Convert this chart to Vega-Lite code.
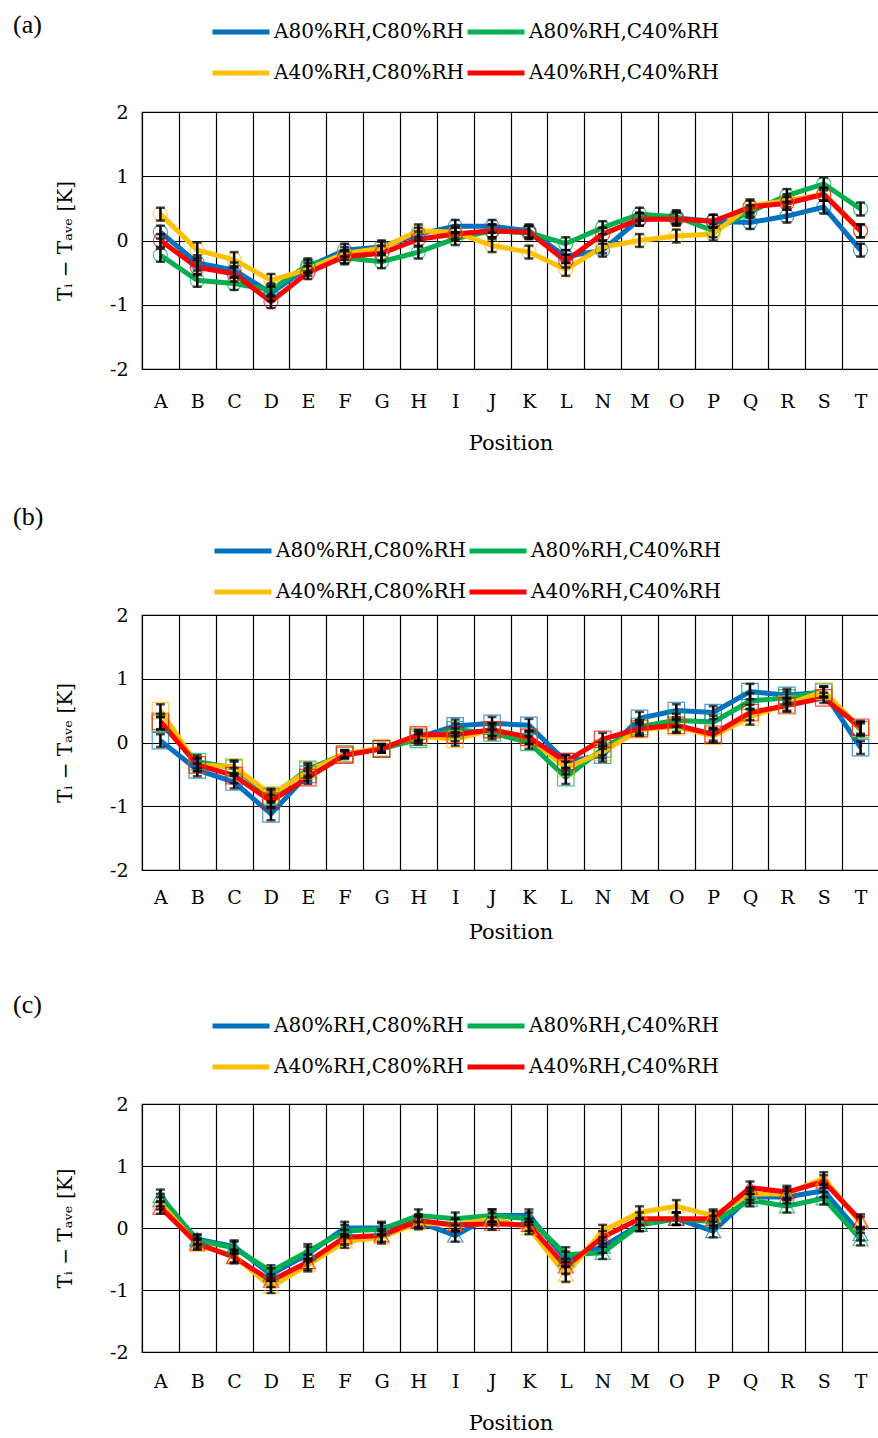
{
  "$schema": "https://vega.github.io/schema/vega-lite/v6.json",
  "padding": {"left": 12, "top": 0, "right": 0, "bottom": 0},
  "background": "white",
  "spacing": 65,
  "resolve": {"scale": {"color": "independent", "stroke": "independent"}, "legend": {"color": "independent", "stroke": "independent"}},
  "config": {
    "font": "DejaVu Serif",
    "view": {"stroke": "black", "strokeWidth": 1.2},
    "axis": {"labelColor": "black", "titleColor": "black", "titleFontWeight": "normal", "labelFont": "DejaVu Serif", "titleFont": "DejaVu Serif"},
    "legend": {"labelColor": "black", "titleColor": "black", "labelFont": "DejaVu Serif", "titleFont": "Liberation Serif"}
  },
  "datasets": {
    "d": [
      {"p":"a","x":"A","s":"A80%RH,C80%RH","v":0.13,"e":0.1},{"p":"a","x":"A","s":"A80%RH,C40%RH","v":-0.23,"e":0.1},{"p":"a","x":"A","s":"A40%RH,C80%RH","v":0.41,"e":0.1},{"p":"a","x":"A","s":"A40%RH,C40%RH","v":0.0,"e":0.1},
      {"p":"a","x":"B","s":"A80%RH,C80%RH","v":-0.35,"e":0.12},{"p":"a","x":"B","s":"A80%RH,C40%RH","v":-0.62,"e":0.1},{"p":"a","x":"B","s":"A40%RH,C80%RH","v":-0.15,"e":0.12},{"p":"a","x":"B","s":"A40%RH,C40%RH","v":-0.42,"e":0.12},
      {"p":"a","x":"C","s":"A80%RH,C80%RH","v":-0.46,"e":0.12},{"p":"a","x":"C","s":"A80%RH,C40%RH","v":-0.67,"e":0.1},{"p":"a","x":"C","s":"A40%RH,C80%RH","v":-0.3,"e":0.12},{"p":"a","x":"C","s":"A40%RH,C40%RH","v":-0.52,"e":0.12},
      {"p":"a","x":"D","s":"A80%RH,C80%RH","v":-0.82,"e":0.12},{"p":"a","x":"D","s":"A80%RH,C40%RH","v":-0.77,"e":0.1},{"p":"a","x":"D","s":"A40%RH,C80%RH","v":-0.62,"e":0.1},{"p":"a","x":"D","s":"A40%RH,C40%RH","v":-0.95,"e":0.1},
      {"p":"a","x":"E","s":"A80%RH,C80%RH","v":-0.41,"e":0.1},{"p":"a","x":"E","s":"A80%RH,C40%RH","v":-0.38,"e":0.1},{"p":"a","x":"E","s":"A40%RH,C80%RH","v":-0.45,"e":0.1},{"p":"a","x":"E","s":"A40%RH,C40%RH","v":-0.5,"e":0.1},
      {"p":"a","x":"F","s":"A80%RH,C80%RH","v":-0.15,"e":0.1},{"p":"a","x":"F","s":"A80%RH,C40%RH","v":-0.27,"e":0.1},{"p":"a","x":"F","s":"A40%RH,C80%RH","v":-0.2,"e":0.1},{"p":"a","x":"F","s":"A40%RH,C40%RH","v":-0.25,"e":0.1},
      {"p":"a","x":"G","s":"A80%RH,C80%RH","v":-0.1,"e":0.1},{"p":"a","x":"G","s":"A80%RH,C40%RH","v":-0.33,"e":0.1},{"p":"a","x":"G","s":"A40%RH,C80%RH","v":-0.12,"e":0.1},{"p":"a","x":"G","s":"A40%RH,C40%RH","v":-0.2,"e":0.12},
      {"p":"a","x":"H","s":"A80%RH,C80%RH","v":0.1,"e":0.1},{"p":"a","x":"H","s":"A80%RH,C40%RH","v":-0.18,"e":0.1},{"p":"a","x":"H","s":"A40%RH,C80%RH","v":0.15,"e":0.1},{"p":"a","x":"H","s":"A40%RH,C40%RH","v":0.02,"e":0.12},
      {"p":"a","x":"I","s":"A80%RH,C80%RH","v":0.22,"e":0.1},{"p":"a","x":"I","s":"A80%RH,C40%RH","v":0.03,"e":0.1},{"p":"a","x":"I","s":"A40%RH,C80%RH","v":0.13,"e":0.1},{"p":"a","x":"I","s":"A40%RH,C40%RH","v":0.1,"e":0.1},
      {"p":"a","x":"J","s":"A80%RH,C80%RH","v":0.22,"e":0.1},{"p":"a","x":"J","s":"A80%RH,C40%RH","v":0.15,"e":0.1},{"p":"a","x":"J","s":"A40%RH,C80%RH","v":-0.08,"e":0.1},{"p":"a","x":"J","s":"A40%RH,C40%RH","v":0.15,"e":0.1},
      {"p":"a","x":"K","s":"A80%RH,C80%RH","v":0.15,"e":0.1},{"p":"a","x":"K","s":"A80%RH,C40%RH","v":0.12,"e":0.1},{"p":"a","x":"K","s":"A40%RH,C80%RH","v":-0.18,"e":0.1},{"p":"a","x":"K","s":"A40%RH,C40%RH","v":0.13,"e":0.1},
      {"p":"a","x":"L","s":"A80%RH,C80%RH","v":-0.25,"e":0.1},{"p":"a","x":"L","s":"A80%RH,C40%RH","v":-0.05,"e":0.1},{"p":"a","x":"L","s":"A40%RH,C80%RH","v":-0.45,"e":0.1},{"p":"a","x":"L","s":"A40%RH,C40%RH","v":-0.32,"e":0.1},
      {"p":"a","x":"N","s":"A80%RH,C80%RH","v":-0.15,"e":0.1},{"p":"a","x":"N","s":"A80%RH,C40%RH","v":0.2,"e":0.1},{"p":"a","x":"N","s":"A40%RH,C80%RH","v":-0.1,"e":0.1},{"p":"a","x":"N","s":"A40%RH,C40%RH","v":0.1,"e":0.1},
      {"p":"a","x":"M","s":"A80%RH,C80%RH","v":0.33,"e":0.1},{"p":"a","x":"M","s":"A80%RH,C40%RH","v":0.41,"e":0.1},{"p":"a","x":"M","s":"A40%RH,C80%RH","v":0.0,"e":0.1},{"p":"a","x":"M","s":"A40%RH,C40%RH","v":0.33,"e":0.1},
      {"p":"a","x":"O","s":"A80%RH,C80%RH","v":0.35,"e":0.1},{"p":"a","x":"O","s":"A80%RH,C40%RH","v":0.37,"e":0.1},{"p":"a","x":"O","s":"A40%RH,C80%RH","v":0.07,"e":0.1},{"p":"a","x":"O","s":"A40%RH,C40%RH","v":0.33,"e":0.1},
      {"p":"a","x":"P","s":"A80%RH,C80%RH","v":0.3,"e":0.1},{"p":"a","x":"P","s":"A80%RH,C40%RH","v":0.15,"e":0.1},{"p":"a","x":"P","s":"A40%RH,C80%RH","v":0.1,"e":0.1},{"p":"a","x":"P","s":"A40%RH,C40%RH","v":0.3,"e":0.1},
      {"p":"a","x":"Q","s":"A80%RH,C80%RH","v":0.28,"e":0.1},{"p":"a","x":"Q","s":"A80%RH,C40%RH","v":0.45,"e":0.1},{"p":"a","x":"Q","s":"A40%RH,C80%RH","v":0.54,"e":0.1},{"p":"a","x":"Q","s":"A40%RH,C40%RH","v":0.52,"e":0.1},
      {"p":"a","x":"R","s":"A80%RH,C80%RH","v":0.38,"e":0.1},{"p":"a","x":"R","s":"A80%RH,C40%RH","v":0.7,"e":0.1},{"p":"a","x":"R","s":"A40%RH,C80%RH","v":0.62,"e":0.1},{"p":"a","x":"R","s":"A40%RH,C40%RH","v":0.58,"e":0.1},
      {"p":"a","x":"S","s":"A80%RH,C80%RH","v":0.52,"e":0.1},{"p":"a","x":"S","s":"A80%RH,C40%RH","v":0.88,"e":0.1},{"p":"a","x":"S","s":"A40%RH,C80%RH","v":0.72,"e":0.1},{"p":"a","x":"S","s":"A40%RH,C40%RH","v":0.72,"e":0.1},
      {"p":"a","x":"T","s":"A80%RH,C80%RH","v":-0.15,"e":0.1},{"p":"a","x":"T","s":"A80%RH,C40%RH","v":0.49,"e":0.1},{"p":"a","x":"T","s":"A40%RH,C80%RH","v":0.15,"e":0.1},{"p":"a","x":"T","s":"A40%RH,C40%RH","v":0.15,"e":0.1},

      {"p":"b","x":"A","s":"A80%RH,C80%RH","v":0.03,"e":0.1},{"p":"b","x":"A","s":"A80%RH,C40%RH","v":0.3,"e":0.1},{"p":"b","x":"A","s":"A40%RH,C80%RH","v":0.5,"e":0.1},{"p":"b","x":"A","s":"A40%RH,C40%RH","v":0.33,"e":0.12},
      {"p":"b","x":"B","s":"A80%RH,C80%RH","v":-0.43,"e":0.1},{"p":"b","x":"B","s":"A80%RH,C40%RH","v":-0.3,"e":0.1},{"p":"b","x":"B","s":"A40%RH,C80%RH","v":-0.35,"e":0.1},{"p":"b","x":"B","s":"A40%RH,C40%RH","v":-0.35,"e":0.1},
      {"p":"b","x":"C","s":"A80%RH,C80%RH","v":-0.62,"e":0.1},{"p":"b","x":"C","s":"A80%RH,C40%RH","v":-0.4,"e":0.1},{"p":"b","x":"C","s":"A40%RH,C80%RH","v":-0.38,"e":0.1},{"p":"b","x":"C","s":"A40%RH,C40%RH","v":-0.52,"e":0.12},
      {"p":"b","x":"D","s":"A80%RH,C80%RH","v":-1.12,"e":0.1},{"p":"b","x":"D","s":"A80%RH,C40%RH","v":-0.85,"e":0.1},{"p":"b","x":"D","s":"A40%RH,C80%RH","v":-0.82,"e":0.1},{"p":"b","x":"D","s":"A40%RH,C40%RH","v":-0.92,"e":0.1},
      {"p":"b","x":"E","s":"A80%RH,C80%RH","v":-0.5,"e":0.1},{"p":"b","x":"E","s":"A80%RH,C40%RH","v":-0.42,"e":0.1},{"p":"b","x":"E","s":"A40%RH,C80%RH","v":-0.45,"e":0.1},{"p":"b","x":"E","s":"A40%RH,C40%RH","v":-0.55,"e":0.1},
      {"p":"b","x":"F","s":"A80%RH,C80%RH","v":-0.18,"e":0.06},{"p":"b","x":"F","s":"A80%RH,C40%RH","v":-0.18,"e":0.06},{"p":"b","x":"F","s":"A40%RH,C80%RH","v":-0.18,"e":0.06},{"p":"b","x":"F","s":"A40%RH,C40%RH","v":-0.2,"e":0.06},
      {"p":"b","x":"G","s":"A80%RH,C80%RH","v":-0.1,"e":0.06},{"p":"b","x":"G","s":"A80%RH,C40%RH","v":-0.1,"e":0.06},{"p":"b","x":"G","s":"A40%RH,C80%RH","v":-0.08,"e":0.06},{"p":"b","x":"G","s":"A40%RH,C40%RH","v":-0.1,"e":0.06},
      {"p":"b","x":"H","s":"A80%RH,C80%RH","v":0.08,"e":0.08},{"p":"b","x":"H","s":"A80%RH,C40%RH","v":0.05,"e":0.08},{"p":"b","x":"H","s":"A40%RH,C80%RH","v":0.1,"e":0.08},{"p":"b","x":"H","s":"A40%RH,C40%RH","v":0.12,"e":0.08},
      {"p":"b","x":"I","s":"A80%RH,C80%RH","v":0.26,"e":0.1},{"p":"b","x":"I","s":"A80%RH,C40%RH","v":0.2,"e":0.1},{"p":"b","x":"I","s":"A40%RH,C80%RH","v":0.05,"e":0.1},{"p":"b","x":"I","s":"A40%RH,C40%RH","v":0.12,"e":0.1},
      {"p":"b","x":"J","s":"A80%RH,C80%RH","v":0.3,"e":0.1},{"p":"b","x":"J","s":"A80%RH,C40%RH","v":0.15,"e":0.1},{"p":"b","x":"J","s":"A40%RH,C80%RH","v":0.2,"e":0.1},{"p":"b","x":"J","s":"A40%RH,C40%RH","v":0.2,"e":0.1},
      {"p":"b","x":"K","s":"A80%RH,C80%RH","v":0.27,"e":0.1},{"p":"b","x":"K","s":"A80%RH,C40%RH","v":0.0,"e":0.1},{"p":"b","x":"K","s":"A40%RH,C80%RH","v":0.08,"e":0.1},{"p":"b","x":"K","s":"A40%RH,C40%RH","v":0.08,"e":0.1},
      {"p":"b","x":"L","s":"A80%RH,C80%RH","v":-0.3,"e":0.1},{"p":"b","x":"L","s":"A80%RH,C40%RH","v":-0.55,"e":0.1},{"p":"b","x":"L","s":"A40%RH,C80%RH","v":-0.4,"e":0.1},{"p":"b","x":"L","s":"A40%RH,C40%RH","v":-0.3,"e":0.1},
      {"p":"b","x":"N","s":"A80%RH,C80%RH","v":-0.2,"e":0.1},{"p":"b","x":"N","s":"A80%RH,C40%RH","v":-0.1,"e":0.1},{"p":"b","x":"N","s":"A40%RH,C80%RH","v":-0.15,"e":0.1},{"p":"b","x":"N","s":"A40%RH,C40%RH","v":0.05,"e":0.1},
      {"p":"b","x":"M","s":"A80%RH,C80%RH","v":0.38,"e":0.1},{"p":"b","x":"M","s":"A80%RH,C40%RH","v":0.25,"e":0.1},{"p":"b","x":"M","s":"A40%RH,C80%RH","v":0.2,"e":0.1},{"p":"b","x":"M","s":"A40%RH,C40%RH","v":0.22,"e":0.1},
      {"p":"b","x":"O","s":"A80%RH,C80%RH","v":0.5,"e":0.1},{"p":"b","x":"O","s":"A80%RH,C40%RH","v":0.35,"e":0.1},{"p":"b","x":"O","s":"A40%RH,C80%RH","v":0.25,"e":0.1},{"p":"b","x":"O","s":"A40%RH,C40%RH","v":0.27,"e":0.1},
      {"p":"b","x":"P","s":"A80%RH,C80%RH","v":0.47,"e":0.1},{"p":"b","x":"P","s":"A80%RH,C40%RH","v":0.32,"e":0.1},{"p":"b","x":"P","s":"A40%RH,C80%RH","v":0.1,"e":0.1},{"p":"b","x":"P","s":"A40%RH,C40%RH","v":0.13,"e":0.1},
      {"p":"b","x":"Q","s":"A80%RH,C80%RH","v":0.8,"e":0.12},{"p":"b","x":"Q","s":"A80%RH,C40%RH","v":0.65,"e":0.12},{"p":"b","x":"Q","s":"A40%RH,C80%RH","v":0.4,"e":0.12},{"p":"b","x":"Q","s":"A40%RH,C40%RH","v":0.47,"e":0.12},
      {"p":"b","x":"R","s":"A80%RH,C80%RH","v":0.74,"e":0.1},{"p":"b","x":"R","s":"A80%RH,C40%RH","v":0.7,"e":0.1},{"p":"b","x":"R","s":"A40%RH,C80%RH","v":0.6,"e":0.1},{"p":"b","x":"R","s":"A40%RH,C40%RH","v":0.58,"e":0.1},
      {"p":"b","x":"S","s":"A80%RH,C80%RH","v":0.79,"e":0.08},{"p":"b","x":"S","s":"A80%RH,C40%RH","v":0.8,"e":0.08},{"p":"b","x":"S","s":"A40%RH,C80%RH","v":0.8,"e":0.08},{"p":"b","x":"S","s":"A40%RH,C40%RH","v":0.7,"e":0.08},
      {"p":"b","x":"T","s":"A80%RH,C80%RH","v":-0.08,"e":0.1},{"p":"b","x":"T","s":"A80%RH,C40%RH","v":0.2,"e":0.1},{"p":"b","x":"T","s":"A40%RH,C80%RH","v":0.22,"e":0.1},{"p":"b","x":"T","s":"A40%RH,C40%RH","v":0.24,"e":0.1},

      {"p":"c","x":"A","s":"A80%RH,C80%RH","v":0.45,"e":0.1},{"p":"c","x":"A","s":"A80%RH,C40%RH","v":0.52,"e":0.1},{"p":"c","x":"A","s":"A40%RH,C80%RH","v":0.4,"e":0.1},{"p":"c","x":"A","s":"A40%RH,C40%RH","v":0.33,"e":0.1},
      {"p":"c","x":"B","s":"A80%RH,C80%RH","v":-0.18,"e":0.08},{"p":"c","x":"B","s":"A80%RH,C40%RH","v":-0.2,"e":0.08},{"p":"c","x":"B","s":"A40%RH,C80%RH","v":-0.27,"e":0.08},{"p":"c","x":"B","s":"A40%RH,C40%RH","v":-0.25,"e":0.08},
      {"p":"c","x":"C","s":"A80%RH,C80%RH","v":-0.3,"e":0.1},{"p":"c","x":"C","s":"A80%RH,C40%RH","v":-0.32,"e":0.1},{"p":"c","x":"C","s":"A40%RH,C80%RH","v":-0.45,"e":0.1},{"p":"c","x":"C","s":"A40%RH,C40%RH","v":-0.47,"e":0.1},
      {"p":"c","x":"D","s":"A80%RH,C80%RH","v":-0.75,"e":0.1},{"p":"c","x":"D","s":"A80%RH,C40%RH","v":-0.7,"e":0.1},{"p":"c","x":"D","s":"A40%RH,C80%RH","v":-0.95,"e":0.1},{"p":"c","x":"D","s":"A40%RH,C40%RH","v":-0.85,"e":0.1},
      {"p":"c","x":"E","s":"A80%RH,C80%RH","v":-0.42,"e":0.12},{"p":"c","x":"E","s":"A80%RH,C40%RH","v":-0.38,"e":0.12},{"p":"c","x":"E","s":"A40%RH,C80%RH","v":-0.6,"e":0.1},{"p":"c","x":"E","s":"A40%RH,C40%RH","v":-0.55,"e":0.12},
      {"p":"c","x":"F","s":"A80%RH,C80%RH","v":0.0,"e":0.1},{"p":"c","x":"F","s":"A80%RH,C40%RH","v":-0.05,"e":0.1},{"p":"c","x":"F","s":"A40%RH,C80%RH","v":-0.22,"e":0.1},{"p":"c","x":"F","s":"A40%RH,C40%RH","v":-0.15,"e":0.12},
      {"p":"c","x":"G","s":"A80%RH,C80%RH","v":0.0,"e":0.1},{"p":"c","x":"G","s":"A80%RH,C40%RH","v":-0.02,"e":0.1},{"p":"c","x":"G","s":"A40%RH,C80%RH","v":-0.15,"e":0.1},{"p":"c","x":"G","s":"A40%RH,C40%RH","v":-0.12,"e":0.1},
      {"p":"c","x":"H","s":"A80%RH,C80%RH","v":0.1,"e":0.1},{"p":"c","x":"H","s":"A80%RH,C40%RH","v":0.2,"e":0.1},{"p":"c","x":"H","s":"A40%RH,C80%RH","v":0.08,"e":0.1},{"p":"c","x":"H","s":"A40%RH,C40%RH","v":0.12,"e":0.1},
      {"p":"c","x":"I","s":"A80%RH,C80%RH","v":-0.12,"e":0.1},{"p":"c","x":"I","s":"A80%RH,C40%RH","v":0.15,"e":0.1},{"p":"c","x":"I","s":"A40%RH,C80%RH","v":0.05,"e":0.1},{"p":"c","x":"I","s":"A40%RH,C40%RH","v":0.05,"e":0.1},
      {"p":"c","x":"J","s":"A80%RH,C80%RH","v":0.2,"e":0.1},{"p":"c","x":"J","s":"A80%RH,C40%RH","v":0.2,"e":0.1},{"p":"c","x":"J","s":"A40%RH,C80%RH","v":0.15,"e":0.1},{"p":"c","x":"J","s":"A40%RH,C40%RH","v":0.07,"e":0.1},
      {"p":"c","x":"K","s":"A80%RH,C80%RH","v":0.2,"e":0.1},{"p":"c","x":"K","s":"A80%RH,C40%RH","v":0.15,"e":0.1},{"p":"c","x":"K","s":"A40%RH,C80%RH","v":0.0,"e":0.1},{"p":"c","x":"K","s":"A40%RH,C40%RH","v":0.05,"e":0.1},
      {"p":"c","x":"L","s":"A80%RH,C80%RH","v":-0.5,"e":0.12},{"p":"c","x":"L","s":"A80%RH,C40%RH","v":-0.43,"e":0.12},{"p":"c","x":"L","s":"A40%RH,C80%RH","v":-0.75,"e":0.12},{"p":"c","x":"L","s":"A40%RH,C40%RH","v":-0.62,"e":0.12},
      {"p":"c","x":"N","s":"A80%RH,C80%RH","v":-0.3,"e":0.1},{"p":"c","x":"N","s":"A80%RH,C40%RH","v":-0.4,"e":0.1},{"p":"c","x":"N","s":"A40%RH,C80%RH","v":-0.05,"e":0.1},{"p":"c","x":"N","s":"A40%RH,C40%RH","v":-0.15,"e":0.1},
      {"p":"c","x":"M","s":"A80%RH,C80%RH","v":0.05,"e":0.1},{"p":"c","x":"M","s":"A80%RH,C40%RH","v":0.05,"e":0.1},{"p":"c","x":"M","s":"A40%RH,C80%RH","v":0.25,"e":0.1},{"p":"c","x":"M","s":"A40%RH,C40%RH","v":0.15,"e":0.1},
      {"p":"c","x":"O","s":"A80%RH,C80%RH","v":0.15,"e":0.1},{"p":"c","x":"O","s":"A80%RH,C40%RH","v":0.15,"e":0.1},{"p":"c","x":"O","s":"A40%RH,C80%RH","v":0.35,"e":0.1},{"p":"c","x":"O","s":"A40%RH,C40%RH","v":0.15,"e":0.1},
      {"p":"c","x":"P","s":"A80%RH,C80%RH","v":-0.05,"e":0.1},{"p":"c","x":"P","s":"A80%RH,C40%RH","v":0.1,"e":0.1},{"p":"c","x":"P","s":"A40%RH,C80%RH","v":0.2,"e":0.1},{"p":"c","x":"P","s":"A40%RH,C40%RH","v":0.15,"e":0.12},
      {"p":"c","x":"Q","s":"A80%RH,C80%RH","v":0.5,"e":0.1},{"p":"c","x":"Q","s":"A80%RH,C40%RH","v":0.45,"e":0.1},{"p":"c","x":"Q","s":"A40%RH,C80%RH","v":0.55,"e":0.1},{"p":"c","x":"Q","s":"A40%RH,C40%RH","v":0.65,"e":0.1},
      {"p":"c","x":"R","s":"A80%RH,C80%RH","v":0.5,"e":0.1},{"p":"c","x":"R","s":"A80%RH,C40%RH","v":0.35,"e":0.1},{"p":"c","x":"R","s":"A40%RH,C80%RH","v":0.55,"e":0.1},{"p":"c","x":"R","s":"A40%RH,C40%RH","v":0.58,"e":0.1},
      {"p":"c","x":"S","s":"A80%RH,C80%RH","v":0.6,"e":0.1},{"p":"c","x":"S","s":"A80%RH,C40%RH","v":0.48,"e":0.1},{"p":"c","x":"S","s":"A40%RH,C80%RH","v":0.8,"e":0.1},{"p":"c","x":"S","s":"A40%RH,C40%RH","v":0.75,"e":0.1},
      {"p":"c","x":"T","s":"A80%RH,C80%RH","v":-0.1,"e":0.1},{"p":"c","x":"T","s":"A80%RH,C40%RH","v":-0.18,"e":0.1},{"p":"c","x":"T","s":"A40%RH,C80%RH","v":0.08,"e":0.1},{"p":"c","x":"T","s":"A40%RH,C40%RH","v":0.12,"e":0.1}
    ]
  },
  "vconcat": [
    {
      "width": 737, "height": 257,
      "data": {"name": "d"},
      "transform": [{"filter": "datum.p === 'a'"}],
      "encoding": {
        "x": {"field": "x", "type": "nominal", "sort": ["A","B","C","D","E","F","G","H","I","J","K","L","N","M","O","P","Q","R","S","T"], "scale": {"type": "band", "paddingInner": 0, "paddingOuter": 0},
              "axis": {"title": "Position", "titleFontSize": 21, "labelFontSize": 19, "labelAngle": 0, "ticks": false, "domain": false, "grid": true, "gridColor": "black", "gridWidth": 1.2, "gridOpacity": 1, "tickBand": "extent", "labelPadding": 23, "titlePadding": 21}},
        "y": {"field": "v", "type": "quantitative", "scale": {"domain": [-2, 2], "nice": false},
              "axis": {"values": [-2,-1,0,1,2], "labelExpr": "'' + datum.value", "title": "Tᵢ − Tₐᵥₑ [K]", "titleFontSize": 20, "labelFontSize": 19, "ticks": false, "domain": false, "grid": true, "gridColor": "black", "gridWidth": 1.2, "gridOpacity": 1, "labelPadding": 14, "titlePadding": 34}}
      },
      "layer": [
        {"mark": {"type": "line", "strokeWidth": 5},
         "encoding": {"color": {"field": "s", "type": "nominal", "scale": {"domain": ["A80%RH,C80%RH","A80%RH,C40%RH","A40%RH,C80%RH","A40%RH,C40%RH"], "range": ["#0070C0","#00B050","#FFC000","#FF0000"]},
           "legend": {"orient": "none", "legendX": -129, "legendY": -111, "direction": "horizontal", "title": "(a)", "titleOrient": "left", "titleBaseline": "line-bottom", "titleLineHeight": 34, "titleFontSize": 26, "titleFontWeight": "normal", "titlePadding": 168, "columns": 2, "symbolType": "stroke", "symbolStrokeWidth": 5, "symbolSize": 3249, "labelFontSize": 20, "labelOffset": 2, "columnPadding": -9, "rowPadding": -15, "labelLimit": 300}}}},
        {"mark": {"type": "point", "filled": false, "shape": "circle", "size": 200, "strokeWidth": 1.2},
         "encoding": {"stroke": {"field": "s", "type": "nominal", "scale": {"domain": ["A80%RH,C80%RH","A80%RH,C40%RH","A40%RH,C80%RH","A40%RH,C40%RH"], "range": ["#0070C0","#00B050","#FFC000","#FF0000"]}, "legend": null}}},
        {"mark": {"type": "errorbar", "color": "black", "ticks": {"size": 9, "thickness": 2.5}, "rule": {"strokeWidth": 2.5}},
         "encoding": {"y": {"field": "v", "type": "quantitative"}, "yError": {"field": "e"}}}
      ]
    },
    {
      "spacing": 51,
      "resolve": {"scale": {"color": "independent", "stroke": "independent"}, "legend": {"color": "independent", "stroke": "independent"}},
      "vconcat": [
        {
          "width": 737, "height": 255,
          "data": {"name": "d"},
          "transform": [{"filter": "datum.p === 'b'"}],
          "encoding": {
            "x": {"field": "x", "type": "nominal", "sort": ["A","B","C","D","E","F","G","H","I","J","K","L","N","M","O","P","Q","R","S","T"], "scale": {"type": "band", "paddingInner": 0, "paddingOuter": 0},
                  "axis": {"title": "Position", "titleFontSize": 21, "labelFontSize": 19, "labelAngle": 0, "ticks": false, "domain": false, "grid": true, "gridColor": "black", "gridWidth": 1.2, "gridOpacity": 1, "tickBand": "extent", "labelPadding": 18, "titlePadding": 14}},
            "y": {"field": "v", "type": "quantitative", "scale": {"domain": [-2, 2], "nice": false},
                  "axis": {"values": [-2,-1,0,1,2], "labelExpr": "'' + datum.value", "title": "Tᵢ − Tₐᵥₑ [K]", "titleFontSize": 20, "labelFontSize": 19, "ticks": false, "domain": false, "grid": true, "gridColor": "black", "gridWidth": 1.2, "gridOpacity": 1, "labelPadding": 14, "titlePadding": 34}}
          },
          "layer": [
            {"mark": {"type": "line", "strokeWidth": 5},
             "encoding": {"color": {"field": "s", "type": "nominal", "scale": {"domain": ["A80%RH,C80%RH","A80%RH,C40%RH","A40%RH,C80%RH","A40%RH,C40%RH"], "range": ["#0070C0","#00B050","#FFC000","#FF0000"]},
               "legend": {"orient": "none", "legendX": -129, "legendY": -95, "direction": "horizontal", "title": "(b)", "titleOrient": "left", "titleBaseline": "line-bottom", "titleLineHeight": 88, "titleFontSize": 26, "titleFontWeight": "normal", "titlePadding": 168, "columns": 2, "symbolType": "stroke", "symbolStrokeWidth": 5, "symbolSize": 3249, "labelFontSize": 20, "labelOffset": 2, "columnPadding": -9, "rowPadding": -15, "labelLimit": 300}}}},
            {"mark": {"type": "point", "filled": false, "shape": "square", "size": 270, "strokeWidth": 1.2},
             "encoding": {"stroke": {"field": "s", "type": "nominal", "scale": {"domain": ["A80%RH,C80%RH","A80%RH,C40%RH","A40%RH,C80%RH","A40%RH,C40%RH"], "range": ["#0070C0","#00B050","#FFC000","#FF0000"]}, "legend": null}}},
            {"mark": {"type": "errorbar", "color": "black", "ticks": {"size": 9, "thickness": 2.5}, "rule": {"strokeWidth": 2.5}},
             "encoding": {"y": {"field": "v", "type": "quantitative"}, "yError": {"field": "e"}}}
          ]
        },
        {
          "width": 737, "height": 248,
          "data": {"name": "d"},
          "transform": [{"filter": "datum.p === 'c'"}],
          "encoding": {
            "x": {"field": "x", "type": "nominal", "sort": ["A","B","C","D","E","F","G","H","I","J","K","L","N","M","O","P","Q","R","S","T"], "scale": {"type": "band", "paddingInner": 0, "paddingOuter": 0},
                  "axis": {"title": "Position", "titleFontSize": 21, "labelFontSize": 19, "labelAngle": 0, "ticks": false, "domain": false, "grid": true, "gridColor": "black", "gridWidth": 1.2, "gridOpacity": 1, "tickBand": "extent", "labelPadding": 20, "titlePadding": 21}},
            "y": {"field": "v", "type": "quantitative", "scale": {"domain": [-2, 2], "nice": false},
                  "axis": {"values": [-2,-1,0,1,2], "labelExpr": "'' + datum.value", "title": "Tᵢ − Tₐᵥₑ [K]", "titleFontSize": 20, "labelFontSize": 19, "ticks": false, "domain": false, "grid": true, "gridColor": "black", "gridWidth": 1.2, "gridOpacity": 1, "labelPadding": 14, "titlePadding": 34}}
          },
          "layer": [
            {"mark": {"type": "line", "strokeWidth": 5},
             "encoding": {"color": {"field": "s", "type": "nominal", "scale": {"domain": ["A80%RH,C80%RH","A80%RH,C40%RH","A40%RH,C80%RH","A40%RH,C40%RH"], "range": ["#0070C0","#00B050","#FFC000","#FF0000"]},
               "legend": {"orient": "none", "legendX": -129, "legendY": -109, "direction": "horizontal", "title": "(c)", "titleOrient": "left", "titleBaseline": "line-bottom", "titleLineHeight": 62, "titleFontSize": 26, "titleFontWeight": "normal", "titlePadding": 168, "columns": 2, "symbolType": "stroke", "symbolStrokeWidth": 5, "symbolSize": 3249, "labelFontSize": 20, "labelOffset": 2, "columnPadding": -9, "rowPadding": -15, "labelLimit": 300}}}},
            {"mark": {"type": "point", "filled": false, "shape": "triangle-up", "size": 230, "strokeWidth": 1.2},
             "encoding": {"stroke": {"field": "s", "type": "nominal", "scale": {"domain": ["A80%RH,C80%RH","A80%RH,C40%RH","A40%RH,C80%RH","A40%RH,C40%RH"], "range": ["#0070C0","#00B050","#FFC000","#FF0000"]}, "legend": null}}},
            {"mark": {"type": "errorbar", "color": "black", "ticks": {"size": 9, "thickness": 2.5}, "rule": {"strokeWidth": 2.5}},
             "encoding": {"y": {"field": "v", "type": "quantitative"}, "yError": {"field": "e"}}}
          ]
        }
      ]
    }
  ]
}
